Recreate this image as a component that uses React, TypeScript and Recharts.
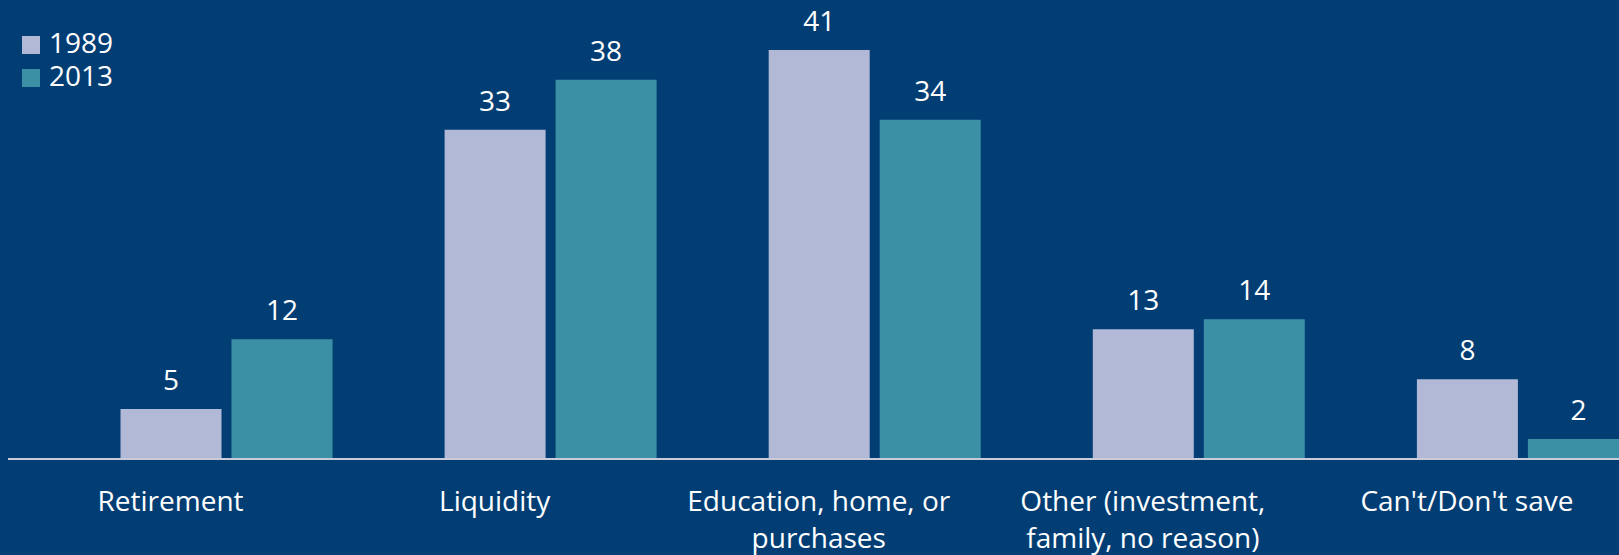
import { BarChart, Bar, XAxis, YAxis, LabelList } from "recharts";

const categories = [
  ["Retirement"],
  ["Liquidity"],
  ["Education, home, or", "purchases"],
  ["Other (investment,", "family, no reason)"],
  ["Can't/Don't save"],
];
const values1989 = [5, 33, 41, 13, 8];
const values2013 = [12, 38, 34, 14, 2];
const seriesNames = ["1989", "2013"];

const BG = "#023E74";
const C1989 = "#B1B9D7";
const C2013 = "#3B90A6";
const FONT = "'Open Sans', sans-serif";

const data = categories.map((lines, i) => ({
  name: lines.join(" "),
  y1989: values1989[i],
  y2013: values2013[i],
}));

function CategoryTick(props: any) {
  const { x, y, index } = props;
  const lines = categories[index] || [];
  return (
    <text
      x={x - 56}
      y={y}
      textAnchor="middle"
      fill="#ffffff"
      fontSize={28}
      fontFamily={FONT}
    >
      {lines.map((l, i) => (
        <tspan key={i} x={x - 56} dy={i === 0 ? 52 : 37}>
          {l}
        </tspan>
      ))}
    </text>
  );
}

// legend drawn as an overlay so it doesn't eat plot space
function LegendBox() {
  const colors = [C1989, C2013];
  return (
    <div
      style={{
        position: "absolute",
        left: 22,
        top: 26,
        fontFamily: FONT,
        fontSize: 28,
        color: "#fff",
      }}
    >
      {seriesNames.map((s, i) => (
        <div
          key={s}
          style={{ display: "flex", alignItems: "center", height: 33, lineHeight: "33px" }}
        >
          <span
            style={{
              display: "inline-block",
              width: 18,
              height: 18,
              background: colors[i],
              marginRight: 9,
              position: "relative",
              top: 2,
            }}
          />
          {s}
        </div>
      ))}
    </div>
  );
}

export default function App() {
  return (
    <div
      style={{
        position: "fixed",
        left: 0,
        top: 0,
        width: 1619,
        height: 555,
        background: BG,
        overflow: "hidden",
      }}
    >
      <BarChart
        width={1685}
        height={555}
        data={data}
        margin={{ top: 10, right: 0, bottom: 0, left: 8 }}
        barSize={101}
        barGap={10}
      >
        <XAxis
          dataKey="name"
          height={96}
          padding={{ left: 56.5, right: 0 }}
          axisLine={{ stroke: "#C9CCD8", strokeWidth: 2 }}
          tickLine={false}
          tickSize={0}
          tickMargin={0}
          interval={0}
          tick={<CategoryTick />}
        />
        <YAxis hide domain={[0, 45]} />
        <Bar dataKey="y1989" name="1989" fill={C1989} isAnimationActive={false}>
          <LabelList
            dataKey="y1989"
            position="top"
            offset={19}
            fill="#ffffff"
            fontSize={28}
            fontFamily={FONT}
          />
        </Bar>
        <Bar dataKey="y2013" name="2013" fill={C2013} isAnimationActive={false}>
          <LabelList
            dataKey="y2013"
            position="top"
            offset={19}
            fill="#ffffff"
            fontSize={28}
            fontFamily={FONT}
          />
        </Bar>
      </BarChart>
      <LegendBox />
    </div>
  );
}
